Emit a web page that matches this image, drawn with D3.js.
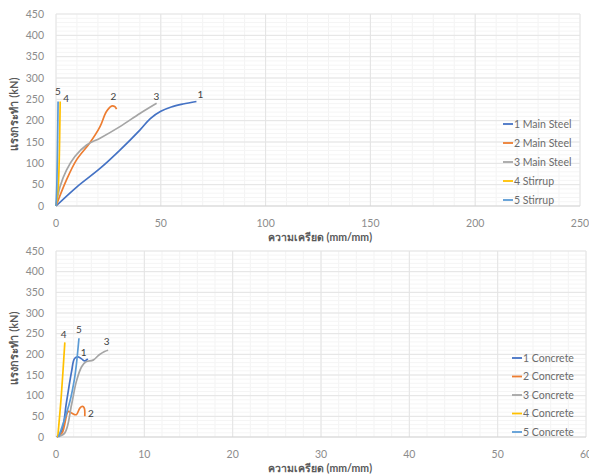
<!DOCTYPE html>
<html>
<head>
<meta charset="utf-8">
<script src="https://cdn.jsdelivr.net/npm/d3@7"></script>
<style>
  body { margin: 0; background: #fff; }
  svg text { font-family: Lato, "Open Sans", "Noto Sans", sans-serif; }
</style>
</head>
<body>
<svg id="chart" width="589" height="475"></svg>
<script>
// colours (Excel office palette)
var colors = ["#4472C4", "#ED7D31", "#A5A5A5", "#FFC000", "#5B9BD5"];

// ---- top chart: steel strain ----
var steelNames = ["1 Main Steel", "2 Main Steel", "3 Main Steel", "4 Stirrup", "5 Stirrup"];
var steel1 = [[0,0],[10,45],[21,88],[30.5,131],[40,178],[45,205],[50,222],[55,232],[60.6,239],[67,245]];
var steel2 = [[0,0],[5,61],[9.8,108],[16,147],[21,186],[24,221],[26.5,234],[28,233],[28.9,227]];
var steel3 = [[0,0],[1.9,45],[5,84],[9,116],[14.6,143],[21,159],[30.5,186],[40,217],[48,241]];
var steel4 = [[0,0],[1,40],[1.5,100],[1.8,180],[2,245]];
var steel5 = [[0,0],[0.4,50],[0.8,170],[1,245]];
var steelTicksX = [0, 50, 100, 150, 200, 250];

// ---- bottom chart: concrete strain ----
var concNames = ["1 Concrete", "2 Concrete", "3 Concrete", "4 Concrete", "5 Concrete"];
var conc1 = [[0.1,0],[0.64,14],[1.2,86],[1.76,158],[2.1,190],[2.5,194],[2.9,189],[3.26,184],[3.6,189]];
var conc2 = [[0.1,0],[0.7,10],[1.39,62],[1.76,58],[2.3,54],[2.7,70],[3.0,74],[3.2,70],[3.26,50]];
var conc3 = [[0.1,0],[1,10],[1.76,78],[2.3,134],[2.9,170],[3.4,182],[4.2,186],[4.9,199],[5.5,207],[5.9,210]];
var conc4 = [[0.2,0],[0.6,100],[1.0,229]];
var conc5 = [[0.3,0],[1.57,86],[2.1,142],[2.3,174],[2.6,239]];
var concTicksX = [0, 10, 20, 30, 40, 50, 60];

var forceTicks = [0, 50, 100, 150, 200, 250, 300, 350, 400, 450];

var svg = d3.select("#chart");

function drawChart(opt) {
  var g = svg.append("g");
  var x = d3.scaleLinear().domain([0, opt.xMax]).range([opt.left, opt.right]);
  var y = d3.scaleLinear().domain([0, 450]).range([opt.bottom, opt.top]);

  // minor grid
  g.selectAll("line.minx").data(d3.range(0, opt.xMax + 0.001, opt.xMinor))
    .enter().append("line")
    .attr("x1", d => x(d)).attr("x2", d => x(d))
    .attr("y1", opt.top).attr("y2", opt.bottom)
    .attr("stroke", "#f3f3f3").attr("stroke-width", 1);
  g.selectAll("line.miny").data(d3.range(0, 451, 10))
    .enter().append("line")
    .attr("x1", opt.left).attr("x2", opt.right)
    .attr("y1", d => y(d)).attr("y2", d => y(d))
    .attr("stroke", "#f5f5f5").attr("stroke-width", 1);

  // major grid
  g.selectAll("line.majx").data(opt.ticksX)
    .enter().append("line")
    .attr("x1", d => x(d)).attr("x2", d => x(d))
    .attr("y1", opt.top).attr("y2", opt.bottom)
    .attr("stroke", "#e4e4e4").attr("stroke-width", 1);
  g.selectAll("line.majy").data(forceTicks)
    .enter().append("line")
    .attr("x1", opt.left).attr("x2", opt.right)
    .attr("y1", d => y(d)).attr("y2", d => y(d))
    .attr("stroke", d => d == 0 ? "#d0d0d0" : "#e4e4e4").attr("stroke-width", 1);

  // tick labels
  g.selectAll("text.tx").data(opt.ticksX)
    .enter().append("text")
    .attr("x", d => x(d)).attr("y", opt.bottom + 21)
    .attr("text-anchor", "middle")
    .attr("font-size", 10.5).attr("fill", "#8c8c8c")
    .text(d => d);
  g.selectAll("text.ty").data(forceTicks)
    .enter().append("text")
    .attr("x", opt.left - 12).attr("y", d => y(d) + 3.5)
    .attr("text-anchor", "end")
    .attr("font-size", 10.5).attr("fill", "#8c8c8c")
    .text(d => d);

  // axis titles
  g.append("text")
    .attr("x", 320).attr("y", opt.bottom + 35)
    .attr("text-anchor", "middle")
    .attr("font-size", 10.5).attr("font-weight", "bold").attr("fill", "#595959")
    .text("ความเครียด (mm/mm)");
  g.append("text")
    .attr("transform", "translate(18," + ((opt.top + opt.bottom) / 2 + 4) + ") rotate(-90)")
    .attr("text-anchor", "middle")
    .attr("font-size", 11).attr("font-weight", "bold").attr("fill", "#595959")
    .text("แรงกระทำ  (kN)");

  // series
  var line = d3.line().x(d => x(d[0])).y(d => y(d[1])).curve(d3.curveCatmullRom.alpha(0.5));
  opt.series.forEach(function (s, i) {
    g.append("path")
      .attr("d", line(s))
      .attr("fill", "none")
      .attr("stroke", colors[i])
      .attr("stroke-width", 1.7);
  });

  // point labels
  opt.labels.forEach(function (lb) {
    var last = opt.series[lb[0]][opt.series[lb[0]].length - 1];
    g.append("text")
      .attr("x", x(lb[1]) + lb[2]).attr("y", y(last[1]) + lb[3])
      .attr("font-size", 10).attr("fill", "#404040")
      .text(lb[0] + 1);
  });

  // legend
  var lg = g.selectAll("g.leg").data(opt.names)
    .enter().append("g")
    .attr("transform", (d, i) => "translate(" + opt.legX + "," + (opt.legY + i * opt.legStep) + ")");
  lg.append("line")
    .attr("x1", 0).attr("x2", 10).attr("y1", 0).attr("y2", 0)
    .attr("stroke", (d, i) => colors[i]).attr("stroke-width", 1.8);
  lg.append("text")
    .attr("x", 11).attr("y", 3.8)
    .attr("font-size", 10.5).attr("fill", "#6b6b6b")
    .text(d => d);
}

// labels: [series index, x value, dx, dy]
drawChart({
  left: 56, right: 580, top: 14, bottom: 206,
  xMax: 250, xMinor: 10, ticksX: steelTicksX,
  series: [steel1, steel2, steel3, steel4, steel5],
  names: steelNames,
  labels: [[0, 67, 1, -3], [1, 26, 0, -9], [2, 47, -1, -3], [3, 2, 3, 1], [4, 0, -1, -6]],
  legX: 503, legY: 124, legStep: 19
});

drawChart({
  left: 56, right: 586, top: 251, bottom: 437,
  xMax: 60, xMinor: 2, ticksX: concTicksX,
  series: [conc1, conc2, conc3, conc4, conc5],
  names: concNames,
  labels: [[0, 2.8, 0, -3], [1, 3.5, 1, 1], [2, 5.3, 1, -5], [3, 0.65, -1, -4], [4, 2.25, 0, -5]],
  legX: 512, legY: 358, legStep: 18.5
});
</script>
</body>
</html>
